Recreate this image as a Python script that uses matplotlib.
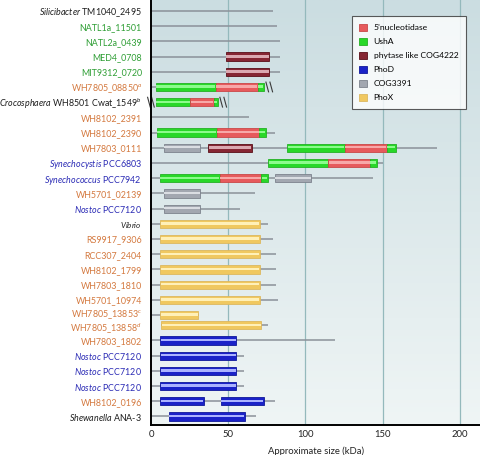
import matplotlib

matplotlib.use("Agg")
import matplotlib.pyplot as plt
import numpy as np
from matplotlib.colors import LinearSegmentedColormap
from matplotlib.patches import Patch
from matplotlib.transforms import ScaledTranslation

plt.rcParams["font.family"] = ["Lato", "DejaVu Sans"]
plt.rcParams["mathtext.fontset"] = "custom"
plt.rcParams["mathtext.rm"] = "Lato"
plt.rcParams["mathtext.it"] = "Lato:italic"

# protein rows, top to bottom
labels = [
    r"$\it{Silicibacter}$ TM1040_2495",
    "NATL1a_11501",
    "NATL2a_0439",
    "MED4_0708",
    "MIT9312_0720",
    r"WH7805_08850$^{a}$",
    r"$\it{Crocosphaera}$ WH8501 Cwat_1549$^{b}$",
    "WH8102_2391",
    "WH8102_2390",
    "WH7803_0111",
    r"$\it{Synechocystis}$ PCC6803",
    r"$\it{Synechococcus}$ PCC7942",
    "WH5701_02139",
    r"$\it{Nostoc}$ PCC7120",
    r"$\it{Vibrio}$",
    "RS9917_9306",
    "RCC307_2404",
    "WH8102_1799",
    "WH7803_1810",
    "WH5701_10974",
    r"WH7805_13853$^{c}$",
    r"WH7805_13858$^{d}$",
    "WH7803_1802",
    r"$\it{Nostoc}$ PCC7120",
    r"$\it{Nostoc}$ PCC7120",
    r"$\it{Nostoc}$ PCC7120",
    "WH8102_0196",
    r"$\it{Shewanella}$ ANA-3",
]
label_group = [
    "other", "pro", "pro", "pro", "pro", "syn", "other", "syn", "syn", "syn",
    "fw", "fw", "syn", "fw", "other", "syn", "syn", "syn", "syn", "syn",
    "syn", "syn", "syn", "fw", "fw", "fw", "syn", "other",
]

# grey line = whole protein (kDa)
prot_start = [0, 0, 0, 0, 0, 0, 3.2, 0, 0, 0, 0, 0, 0, 0,
              0, 0, 0, 0, 0, 0, 0, 6.7, 0, 0, 0, 0, 0, 0]
prot_end = [79, 81.8, 83.8, 83.3, 83.8, 73.1, 43.3, 63.2, 80, 185, 150, 143.9, 67.3, 57.8,
            76, 79.2, 81.2, 81.2, 81.2, 82.5, 30.9, 75.5, 118.8, 59.9, 59.9, 59.9, 80, 67.7]

# domains: (start, end, kind)
domains = [
    [],
    [],
    [],
    [(48.5, 76.4, "phy")],
    [(48.5, 76.4, "phy")],
    [(3.2, 41.8, "ush"), (41.8, 69.2, "nuc"), (69.2, 73.1, "ush")],
    [(3.2, 25.5, "ush"), (25.5, 40.7, "nuc"), (40.7, 43.3, "ush")],
    [],
    [(3.9, 42.6, "ush"), (42.6, 69.9, "nuc"), (69.9, 74.2, "ush")],
    [(8.2, 31.8, "cog"), (37.2, 65.1, "phy"), (88.1, 125.5, "ush"),
     (125.5, 152.6, "nuc"), (152.6, 158.4, "ush")],
    [(76, 114.7, "ush"), (114.7, 141.8, "nuc"), (141.8, 146.1, "ush")],
    [(5.6, 44.4, "ush"), (44.4, 71.4, "nuc"), (71.4, 75.7, "ush"), (80.3, 103.9, "cog")],
    [(8.2, 31.8, "cog")],
    [(8.2, 31.8, "cog")],
    [(6, 70.3, "phox")],
    [(6, 70.3, "phox")],
    [(6, 70.3, "phox")],
    [(6, 70.3, "phox")],
    [(6, 70.3, "phox")],
    [(6, 70.3, "phox")],
    [(6, 30.5, "phox")],
    [(6.7, 71.2, "phox")],
    [(6, 55.2, "phod")],
    [(6, 55.2, "phod")],
    [(6, 55.2, "phod")],
    [(6, 55.2, "phod")],
    [(6, 34.2, "phod"), (45, 73.1, "phod")],
    [(11.4, 60.6, "phod")],
]

# rows drawn as truncated (left, right break marks)
break_left = ["Crocosphaera"]
break_right = ["08850", "Crocosphaera"]

legend_kinds = ["nuc", "ush", "phy", "phod", "cog", "phox"]
legend_names = ["5\u2019nucleotidase", "UshA", "phytase like COG4222", "PhoD", "COG3391", "PhoX"]

# base colour, highlight colour, edge colour
kind_colors = {
    "nuc": ("#e65a5c", "#f7a8a8", "#c94848"),
    "ush": ("#28d828", "#8cfb8c", "#25b025"),
    "phy": ("#862633", "#dba8b0", "#5a0f18"),
    "phod": ("#1a22c8", "#aab2ff", "#10189a"),
    "cog": ("#a2a7b0", "#dadde2", "#7d838d"),
    "phox": ("#f0c860", "#fff0b8", "#dcb860"),
}
group_colors = {"other": "#1e1e1e", "pro": "#2f9e35", "syn": "#d4793f", "fw": "#2b2bb5"}

n = len(labels)
idx = np.arange(n)
row_y = idx - 0.33 * (idx >= 21)
bar_h = 0.54

fig = plt.figure(figsize=(4.8, 4.55), dpi=100)
ax = fig.add_axes([0.3146, 0.067, 0.6854, 0.933])

bg = LinearSegmentedColormap.from_list("bg", ["#cbdde1", "#eff5f5"])
ax.imshow(np.linspace(0, 1, 256).reshape(-1, 1), cmap=bg, extent=[0, 1, 0, 1],
          transform=ax.transAxes, aspect="auto", zorder=0)

for xv in [50, 100, 150, 200]:
    ax.axvline(xv, color="#94b9bc", lw=0.9, zorder=1)

for i in range(n):
    y = row_y[i]
    ax.plot([prot_start[i], prot_end[i]], [y, y], color="#8b9199", lw=1.1,
            solid_capstyle="butt", zorder=2)
    for s, e, kind in domains[i]:
        base, hi, edge = kind_colors[kind]
        ax.barh(y, e - s, left=s, height=bar_h, color=base, edgecolor=edge,
                linewidth=0.6, zorder=3)
        hh = 0.38 if kind == "phy" else 0.28
        ax.barh(y - 0.03, e - s - 0.6, left=s + 0.3, height=bar_h * hh,
                color=hi, linewidth=0, zorder=4)

    marks = []
    if any(k in labels[i] for k in break_left):
        s0 = domains[i][0][0]
        marks.append(s0 - 5.4)
    if any(k in labels[i] for k in break_right):
        e0 = domains[i][-1][1]
        marks.append(e0 + 1.3)
    for mx in marks:
        for off in [0, 2.6]:
            ax.plot([mx + off, mx + off + 1.7], [y - 0.32, y + 0.32],
                    color="#3a3a3a", lw=0.8, zorder=5, clip_on=False)

ax.set_xlim(0, 213)
ax.set_ylim(27.2, -0.72)

# the two close WH7805 rows get their labels nudged apart
nudge = {"13853": 1.6, "13858": -1.4}
tick_labels = []
for i, lab in enumerate(labels):
    key = next((k for k in nudge if k in lab), None)
    if key is None:
        tick_labels.append(lab)
        continue
    tick_labels.append("")
    off = ScaledTranslation(-6.5 / 72, nudge[key] / 72, fig.dpi_scale_trans)
    ax.text(0, row_y[i], lab, transform=ax.get_yaxis_transform() + off,
            ha="right", va="center_baseline", fontsize=6.4,
            color=group_colors[label_group[i]])

ax.set_yticks(row_y)
ax.set_yticklabels(tick_labels, fontsize=6.4)
for tl, g, lab in zip(ax.get_yticklabels(), label_group, labels):
    tl.set_color(group_colors[g])
    if "Vibrio" in lab:
        tl.set_fontsize(5.8)
ax.tick_params(axis="y", length=0, pad=6.5)
ax.set_xticks([0, 50, 100, 150, 200])
ax.tick_params(axis="x", length=0, pad=4, labelsize=6.8, colors="#222222")
ax.set_xlabel("Approximate size (kDa)", fontsize=6.8, color="#222222", labelpad=5)

for side in ["top", "right"]:
    ax.spines[side].set_visible(False)
for side in ["left", "bottom"]:
    ax.spines[side].set_linewidth(1.4)
    ax.spines[side].set_color("black")
    ax.spines[side].set_zorder(6)

handles = [Patch(facecolor=kind_colors[k][0], edgecolor=kind_colors[k][2], linewidth=0.6)
           for k in legend_kinds]
leg = ax.legend(handles, legend_names, loc="upper right", bbox_to_anchor=(0.957, 0.962),
                fontsize=6.1, frameon=True, fancybox=False, edgecolor="#333333",
                handlelength=0.9, handleheight=1.0, handletextpad=0.8,
                labelspacing=0.74, borderpad=0.9, borderaxespad=0)
leg.get_frame().set_linewidth(0.8)
leg.get_frame().set_facecolor("white")
leg.set_zorder(7)

fig.savefig("out.png", dpi=100)
